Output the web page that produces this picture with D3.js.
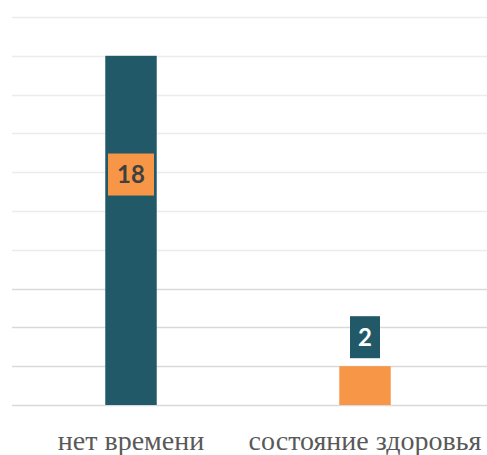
<!DOCTYPE html>
<html>
<head>
<meta charset="utf-8">
<script src="https://cdn.jsdelivr.net/npm/d3@7"></script>
<style>
  html, body { margin: 0; padding: 0; background: #fff; }
  svg { display: block; }
</style>
</head>
<body>
<div id="chart"></div>
<script>
// data
const categories = ['нет времени', 'состояние здоровья'];
const values = [18, 2];
const barColors = ['#215968', '#F79646'];
const labelFill = ['#F79646', '#215968'];
const labelText = ['#404040', '#ffffff'];
const yTicks = [0, 2, 4, 6, 8, 10, 12, 14, 16, 18, 20];

const width = 487, height = 455;

const svg = d3.select('#chart')
  .append('svg')
  .attr('width', width)
  .attr('height', height);

// scales
const x = d3.scaleBand()
  .domain(categories)
  .range([14, 482])
  .paddingInner(0.78)
  .paddingOuter(0.39);

const y = d3.scaleLinear()
  .domain([0, 20])
  .range([405, 17]);

// gridlines
svg.append('g')
  .selectAll('line')
  .data(yTicks)
  .enter()
  .append('line')
  .attr('x1', 12)
  .attr('x2', width)
  .attr('y1', d => Math.round(y(d)) + 0.5)
  .attr('y2', d => Math.round(y(d)) + 0.5)
  .attr('stroke', d => d <= 6 ? '#d9d9d9' : '#ececec')
  .attr('stroke-width', 1.5);

// bars
svg.append('g')
  .selectAll('rect')
  .data(values)
  .enter()
  .append('rect')
  .attr('x', (d, i) => x(categories[i]))
  .attr('y', d => y(d))
  .attr('width', x.bandwidth())
  .attr('height', d => y(0) - y(d))
  .attr('fill', (d, i) => barColors[i]);

// data labels: first sits inside the bar, second above it
const labelCenterY = (d, i) => i === 0 ? y(d * 0.66) : y(d) - 29;

const labels = svg.append('g')
  .selectAll('g')
  .data(values)
  .enter()
  .append('g')
  .attr('transform', (d, i) =>
    `translate(${x(categories[i]) + x.bandwidth() / 2},${labelCenterY(d, i)})`);

labels.append('rect')
  .attr('x', d => String(d).length > 1 ? -23 : -15)
  .attr('y', -21)
  .attr('width', d => String(d).length > 1 ? 46 : 30)
  .attr('height', 42)
  .attr('fill', (d, i) => labelFill[i]);

labels.append('text')
  .attr('text-anchor', 'middle')
  .attr('dy', '0.36em')
  .attr('font-family', 'Lato')
  .attr('font-weight', 'bold')
  .attr('font-size', 24)
  .attr('fill', (d, i) => labelText[i])
  .text(d => d);

// category axis
svg.append('g')
  .selectAll('text')
  .data(categories)
  .enter()
  .append('text')
  .attr('x', d => x(d) + x.bandwidth() / 2)
  .attr('y', 450)
  .attr('text-anchor', 'middle')
  .attr('font-family', 'Liberation Serif')
  .attr('font-size', 28)
  .attr('fill', '#595959')
  .text(d => d);
</script>
</body>
</html>
